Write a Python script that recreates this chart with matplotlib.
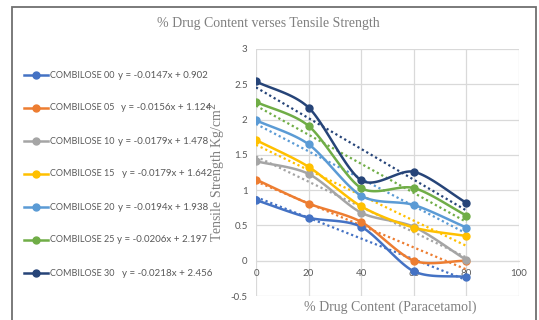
import numpy as np
import matplotlib
matplotlib.use("Agg")
import matplotlib.pyplot as plt
from matplotlib.patches import Rectangle

x_vals = [0, 20, 40, 60, 80]
series_names = ["COMBILOSE 00", "COMBILOSE 05", "COMBILOSE 10", "COMBILOSE 15",
                "COMBILOSE 20", "COMBILOSE 25", "COMBILOSE 30"]
c00 = [0.86, 0.61, 0.48, -0.15, -0.23]
c05 = [1.15, 0.81, 0.55, 0.00, 0.00]
c10 = [1.41, 1.23, 0.68, 0.48, 0.01]
c15 = [1.71, 1.33, 0.77, 0.47, 0.35]
c20 = [1.99, 1.65, 0.92, 0.79, 0.47]
c25 = [2.25, 1.91, 1.03, 1.03, 0.64]
c30 = [2.54, 2.17, 1.14, 1.26, 0.82]
slopes = [-0.0147, -0.0156, -0.0179, -0.0179, -0.0194, -0.0206, -0.0218]
intercepts = [0.902, 1.124, 1.478, 1.642, 1.938, 2.197, 2.456]
equations = ["y = -0.0147x + 0.902", "y = -0.0156x + 1.124", "y = -0.0179x + 1.478",
             "y = -0.0179x + 1.642", "y = -0.0194x + 1.938", "y = -0.0206x + 2.197",
             "y = -0.0218x + 2.456"]
data = [c00, c05, c10, c15, c20, c25, c30]
colors = ["#4472C4", "#ED7D31", "#A5A5A5", "#FFC000", "#5B9BD5", "#70AD47", "#264478"]
x_ticks = [0, 20, 40, 60, 80, 100]
y_ticks = [-0.5, 0, 0.5, 1, 1.5, 2, 2.5, 3]

UI_FONT = "Lato"


def smooth(xs, ys, n=30):
    xs = np.asarray(xs, float); ys = np.asarray(ys, float)
    px = np.concatenate([[2 * xs[0] - xs[1]], xs, [2 * xs[-1] - xs[-2]]])
    py = np.concatenate([[2 * ys[0] - ys[1]], ys, [2 * ys[-1] - ys[-2]]])
    ox, oy = [], []
    t = np.linspace(0, 1, n)
    for i in range(1, len(px) - 2):
        for P, out in ((px, ox), (py, oy)):
            p0, p1, p2, p3 = P[i - 1], P[i], P[i + 1], P[i + 2]
            m1 = (p2 - p0) / 2 * 0.85
            m2 = (p3 - p1) / 2 * 0.85
            h00 = 2 * t**3 - 3 * t**2 + 1
            h10 = t**3 - 2 * t**2 + t
            h01 = -2 * t**3 + 3 * t**2
            h11 = t**3 - t**2
            out.extend(h00 * p1 + h10 * m1 + h01 * p2 + h11 * m2)
    return np.array(ox), np.array(oy)


W, H = 539, 320
fig = plt.figure(figsize=(W / 100, H / 100), dpi=100)
fig.patch.set_facecolor("white")

# chart border
fig.patches.append(Rectangle((12 / W, -0.05), (536 - 12) / W, 1.05 - 7 / H,
                             transform=fig.transFigure, fill=False,
                             edgecolor="#6f6f6f", lw=1.3))

ax = fig.add_axes([256 / W, 1 - 296 / H, (519 - 256) / W, (296 - 49) / H])
ax.set_xlim(0, 100)
ax.set_ylim(-0.5, 3)
ax.set_xticks(x_ticks)
ax.set_yticks(y_ticks)
ax.set_yticklabels([("%g" % v) for v in y_ticks])
ax.grid(True, color="#D9D9D9", lw=0.9)
ax.set_axisbelow(True)
for s in ["top", "right", "left"]:
    ax.spines[s].set_visible(False)
ax.spines["bottom"].set_position(("data", 0))
ax.spines["bottom"].set_color("#D9D9D9")
ax.tick_params(length=0, labelsize=7, labelcolor="#595959", pad=6)
for lab in ax.get_xticklabels() + ax.get_yticklabels():
    lab.set_family(UI_FONT)

for i, (ys, col) in enumerate(zip(data, colors)):
    sx, sy = smooth(x_vals, ys)
    ax.plot(sx, sy, color=col, lw=1.8, zorder=3)
    ax.plot(x_vals, ys, ls="none", marker="o", ms=5, color=col, zorder=4)
    tx = np.array([x_vals[0], x_vals[-1]], float)
    ax.plot(tx, slopes[i] * tx + intercepts[i], ls=(0, (1, 1.3)), lw=1.6,
            color=col, zorder=2)

fig.text(268 / W, 1 - 24 / H, "% Drug Content verses Tensile Strength",
         ha="center", va="center", family="Liberation Serif", fontsize=10,
         color="#7f7f7f")
fig.text(390 / W, 1 - 307 / H, "% Drug Content (Paracetamol)",
         ha="center", va="center", family="Liberation Serif", fontsize=10,
         color="#7f7f7f")
fig.text(217 / W, 1 - 172 / H, "Tensile Strength Kg/cm$^2$", rotation=90,
         ha="center", va="center", family="Liberation Serif", fontsize=10,
         color="#7f7f7f")

leg_y = [75, 108, 141, 174, 207, 240, 273]
eq_x = [118, 121, 118, 122, 118, 117, 122]
for i in range(7):
    yf = 1 - leg_y[i] / H
    fig.lines.append(plt.Line2D([24 / W, 48 / W], [yf, yf], color=colors[i], lw=1.8,
                                transform=fig.transFigure))
    fig.lines.append(plt.Line2D([36 / W], [yf], color=colors[i], marker="o", ms=5,
                                transform=fig.transFigure))
    fig.text(50 / W, yf, series_names[i], ha="left", va="center", fontsize=6.5,
             family=UI_FONT, color="#595959")
    fig.text(eq_x[i] / W, yf, equations[i], ha="left", va="center", fontsize=7,
             family=UI_FONT, color="#595959")

fig.savefig("out.png", dpi=100)
